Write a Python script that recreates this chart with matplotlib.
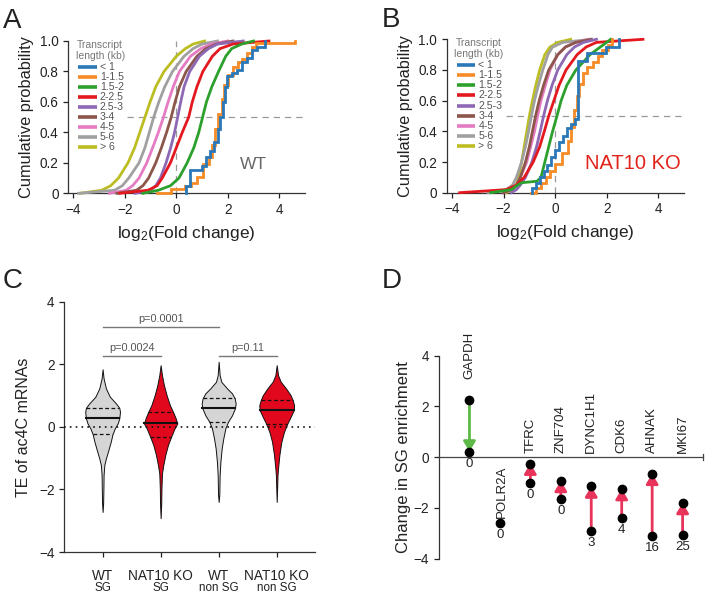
import numpy as np
import matplotlib
matplotlib.use('Agg')
import matplotlib.pyplot as plt

plt.rcParams['font.family'] = ['Liberation Sans', 'DejaVu Sans']
plt.rcParams['mathtext.fontset'] = 'custom'
plt.rcParams['mathtext.rm'] = 'Liberation Sans'
plt.rcParams['mathtext.it'] = 'Liberation Sans:italic'

# ---------------- Panels A / B data (cumulative distributions) ----------------
length_bins = ['< 1', '1-1.5', '1.5-2', '2-2.5', '2.5-3', '3-4', '4-5', '5-6', '> 6']
bin_colors = ['#2b78b8', '#f68b27', '#2ca02c', '#e3191f', '#8d68b5', '#8c564b',
              '#e57bc3', '#a0a0a0', '#bcbd22']

probs = [0, 0.02, 0.05, 0.1, 0.2, 0.3, 0.4, 0.5, 0.6, 0.7, 0.8, 0.9, 0.95, 0.98, 1.0]

# WT: log2 fold change quantiles per transcript-length bin
wt_lt1_x = [0.38, 0.38, 0.52, 1.0, 1.15, 1.3, 1.45, 1.6, 1.7, 1.8, 1.9, 1.96, 2.15, 2.35, 2.55, 2.75, 2.95, 3.15, 3.45]
wt_lt1_p = [0.0, 0.05, 0.15, 0.18, 0.24, 0.28, 0.34, 0.42, 0.5, 0.6, 0.7, 0.77, 0.79, 0.81, 0.86, 0.89, 0.94, 0.96, 1.0]
wt_1_15_x = [-0.75, -0.2, 0.35, 0.55, 0.8, 1.05, 1.25, 1.38, 1.5, 1.62, 1.76, 1.84, 2.0, 2.2, 2.4, 2.55, 2.75, 2.95, 3.1, 4.6]
wt_1_15_p = [0.005, 0.03, 0.05, 0.07, 0.11, 0.19, 0.24, 0.32, 0.42, 0.52, 0.62, 0.71, 0.78, 0.83, 0.86, 0.88, 0.92, 0.96, 0.985, 1.0]
wt_15_2 = [-1.3, -0.7, -0.23, 0.1, 0.42, 0.68, 0.87, 1.02, 1.17, 1.38, 1.64, 1.92, 2.15, 2.54, 3.0]
wt_2_25 = [-2.2, -1.1, -0.75, -0.55, -0.23, 0.0, 0.23, 0.48, 0.62, 0.8, 1.03, 1.4, 1.7, 2.2, 3.6]
wt_25_3 = [-1.6, -1.0, -0.8, -0.62, -0.4, -0.22, -0.07, 0.05, 0.17, 0.3, 0.52, 0.9, 1.25, 1.6, 2.6]
wt_3_4 = [-2.3, -1.55, -1.3, -1.08, -0.8, -0.58, -0.38, -0.2, -0.05, 0.12, 0.38, 0.8, 1.15, 1.55, 2.2]
wt_4_5 = [-2.6, -1.95, -1.7, -1.45, -1.15, -0.92, -0.7, -0.5, -0.32, -0.12, 0.12, 0.55, 0.95, 1.35, 2.0]
wt_5_6 = [-3.8, -2.4, -2.1, -1.85, -1.45, -1.22, -1.05, -0.88, -0.68, -0.45, -0.15, 0.3, 0.65, 1.0, 1.6]
wt_gt6 = [-3.75, -2.9, -2.55, -2.25, -1.88, -1.62, -1.42, -1.22, -1.02, -0.8, -0.48, 0.0, 0.35, 0.65, 1.1]

# NAT10 KO
ko_lt1_x = [-0.9, -0.9, -0.75, -0.6, -0.45, -0.3, -0.15, 0.0, 0.15, 0.3, 0.45, 0.6, 0.75, 0.9, 1.25, 1.95, 2.48]
ko_lt1_p = [0.0, 0.03, 0.06, 0.1, 0.14, 0.18, 0.23, 0.28, 0.33, 0.37, 0.42, 0.45, 0.48, 0.86, 0.91, 0.95, 1.0]
ko_1_15_x = [-0.95, -0.75, -0.55, -0.35, -0.2, 0.0, 0.28, 0.48, 0.6, 0.74, 0.83, 0.93, 1.06, 1.25, 1.45, 1.64, 1.83, 2.03, 2.2]
ko_1_15_p = [0.0, 0.03, 0.06, 0.1, 0.14, 0.19, 0.26, 0.34, 0.43, 0.54, 0.63, 0.71, 0.78, 0.82, 0.85, 0.89, 0.93, 0.96, 1.0]
ko_15_2_x = [-2.5, -1.7, -1.45, -1.3, -0.7, -0.55, -0.4, -0.25, -0.1, 0.07, 0.23, 0.45, 0.8, 1.35, 1.75, 2.15]
ko_15_2_p = [0.0, 0.02, 0.05, 0.065, 0.075, 0.1, 0.2, 0.3, 0.4, 0.5, 0.6, 0.7, 0.8, 0.9, 0.95, 1.0]
ko_2_25 = [-3.7, -1.9, -1.5, -1.2, -0.85, -0.6, -0.42, -0.25, -0.05, 0.15, 0.42, 0.85, 1.2, 1.6, 3.4]
ko_25_3 = [-1.7, -1.5, -1.35, -1.15, -0.9, -0.72, -0.58, -0.45, -0.3, -0.12, 0.1, 0.45, 0.75, 1.1, 1.6]
ko_3_4 = [-2.0, -1.7, -1.5, -1.35, -1.15, -1.0, -0.88, -0.76, -0.62, -0.45, -0.25, 0.1, 0.4, 0.8, 1.4]
ko_4_5 = [-2.0, -1.7, -1.5, -1.35, -1.1, -0.95, -0.8, -0.68, -0.55, -0.38, -0.2, 0.1, 0.4, 0.8, 1.3]
ko_5_6 = [-2.6, -1.9, -1.65, -1.5, -1.3, -1.15, -1.03, -0.92, -0.8, -0.65, -0.48, -0.28, -0.1, 0.3, 1.4]
ko_gt6 = [-1.9, -1.65, -1.5, -1.42, -1.3, -1.2, -1.1, -1.0, -0.88, -0.75, -0.6, -0.4, -0.2, 0.1, 0.6]

# ---------------- Panel C data (violins) ----------------
violin_groups = ['WT', 'NAT10 KO', 'WT', 'NAT10 KO']
violin_sub = ['SG', 'SG', 'non SG', 'non SG']
violin_colors = ['#d5d5d5', '#e1071c', '#d5d5d5', '#e1071c']
# density outline: y levels and half-widths (in category units)
wt_sg_y = [-2.72, -2.45, -1.97, -1.54, -1.22, -1.01, -0.74, -0.48, -0.24, -0.05, 0.11, 0.27, 0.48, 0.61, 0.75, 0.96, 1.23, 1.55, 1.84]
wt_sg_w = [0.0, 0.009, 0.014, 0.017, 0.03, 0.057, 0.1, 0.14, 0.17, 0.21, 0.26, 0.287, 0.3, 0.287, 0.23, 0.126, 0.057, 0.017, 0.0]
ko_sg_y = [-2.92, -2.45, -1.97, -1.49, -1.22, -0.9, -0.58, -0.32, -0.05, 0.11, 0.27, 0.46, 0.69, 1.01, 1.33, 1.65, 1.97]
ko_sg_w = [0.0, 0.01, 0.014, 0.023, 0.046, 0.08, 0.126, 0.18, 0.24, 0.287, 0.26, 0.218, 0.16, 0.103, 0.057, 0.023, 0.0]
wt_nsg_y = [-2.4, -2.15, -1.54, -1.12, -0.69, -0.37, -0.05, 0.16, 0.37, 0.59, 0.75, 0.91, 1.07, 1.23, 1.44, 1.65, 2.08]
wt_nsg_w = [0.0, 0.011, 0.017, 0.03, 0.052, 0.08, 0.115, 0.16, 0.23, 0.28, 0.293, 0.276, 0.23, 0.144, 0.046, 0.017, 0.0]
ko_nsg_y = [-2.4, -1.54, -1.33, -0.9, -0.48, -0.16, 0.09, 0.32, 0.53, 0.69, 0.85, 1.01, 1.23, 1.44, 1.65, 1.97]
ko_nsg_w = [0.0, 0.014, 0.023, 0.046, 0.08, 0.126, 0.18, 0.24, 0.293, 0.3, 0.276, 0.24, 0.16, 0.07, 0.023, 0.0]
violin_median = [0.27, 0.11, 0.59, 0.53]
violin_q1 = [-0.24, -0.32, 0.16, 0.09]
violin_q3 = [0.61, 0.46, 0.91, 0.85]
comparisons = [(1, 3, 'p=0.0001'), (1, 2, 'p=0.0024'), (3, 4, 'p=0.11')]
comparison_y = [3.2, 2.25, 2.25]

# ---------------- Panel D data ----------------
genes = ['GAPDH', 'POLR2A', 'TFRC', 'ZNF704', 'DYNC1H1', 'CDK6', 'AHNAK', 'MKI67']
enrich_start = [2.25, -2.6, -1.03, -1.65, -2.9, -2.4, -3.1, -3.05]
enrich_end = [0.22, np.nan, -0.25, -0.93, -1.15, -1.25, -0.65, -1.8]
site_counts = [0, 0, 0, 0, 3, 4, 16, 25]

# ============================================================================
W, H = 705, 595
fig = plt.figure(figsize=(W / 100, H / 100), dpi=100)


def px_axes(left, top, right, bottom):
    return fig.add_axes([left / W, 1 - bottom / H, (right - left) / W, (bottom - top) / H])


def style_axes(ax):
    for s in ['top', 'right']:
        ax.spines[s].set_visible(False)
    for s in ['left', 'bottom']:
        ax.spines[s].set_linewidth(0.9)
        ax.spines[s].set_color('#333333')
    ax.tick_params(direction='out', length=3.5, width=0.9, colors='#222222', labelsize=9.8)


def cdf_panel(ax, series, label_text, label_color, label_size):
    ax.set_xlim(-4.2, 5.0)
    ax.set_ylim(0, 1.0)
    style_axes(ax)
    ax.plot([0, 0], [0, 1.0], color='#999999', lw=0.9, ls=(0, (5, 4)), zorder=1)
    ax.plot([-1.9, 5.0], [0.5, 0.5], color='#999999', lw=0.9, ls=(0, (5, 4)), zorder=1)
    for i in range(len(series) - 1, -1, -1):
        xs, ps, step = series[i]
        ax.plot(xs, ps, color=bin_colors[i], lw=2.0, drawstyle='steps-post' if step else 'default',
                solid_joinstyle='miter', clip_on=False, zorder=3 + (len(series) - i) * 0.01)
    ax.set_xticks([-4, -2, 0, 2, 4])
    ax.set_yticks([0, 0.2, 0.4, 0.6, 0.8, 1.0])
    ax.set_yticklabels(['0', '0.2', '0.4', '0.6', '0.8', '1.0'])
    ax.set_xlabel(r'log$_\mathrm{2}$(Fold change)', fontsize=12.5, color='#222222', labelpad=5)
    ax.set_ylabel('Cumulative probability', fontsize=11.8, color='#222222', labelpad=4)
    # legend (manual)
    ax.text(0.135, 0.974, 'Transcript', transform=ax.transAxes, ha='center', va='center',
            fontsize=7.5, color='#777777')
    ax.text(0.135, 0.901, 'length (kb)', transform=ax.transAxes, ha='center', va='center',
            fontsize=7.5, color='#777777')
    for i, lab in enumerate(length_bins):
        yy = 0.831 - i * 0.0657
        ax.plot([0.042, 0.12], [yy, yy], color=bin_colors[i], lw=2.6, transform=ax.transAxes,
                solid_capstyle='butt')
        ax.text(0.133, yy, lab, transform=ax.transAxes, ha='left', va='center', fontsize=7.6,
                color='#555555')
    ax.text(3.0, 0.19, label_text, ha='center', va='center', fontsize=label_size, color=label_color)


# Panel A
axA = px_axes(68.3, 41, 305, 193.3)
seriesA = [(wt_lt1_x, wt_lt1_p, True), (wt_1_15_x, wt_1_15_p, True), (wt_15_2, probs, False),
           (wt_2_25, probs, False), (wt_25_3, probs, False), (wt_3_4, probs, False),
           (wt_4_5, probs, False), (wt_5_6, probs, False), (wt_gt6, probs, False)]
cdf_panel(axA, seriesA, 'WT', '#666666', 12.5)

# Panel B
axB = px_axes(446.7, 39.3, 684.3, 192.7)
seriesB = [(ko_lt1_x, ko_lt1_p, True), (ko_1_15_x, ko_1_15_p, True), (ko_15_2_x, ko_15_2_p, False),
           (ko_2_25, probs, False), (ko_25_3, probs, False), (ko_3_4, probs, False),
           (ko_4_5, probs, False), (ko_5_6, probs, False), (ko_gt6, probs, False)]
cdf_panel(axB, seriesB, 'NAT10 KO', '#e2231a', 14.5)

# Panel C
axC = px_axes(64.3, 301.7, 315, 552)
style_axes(axC)
axC.set_xlim(0.34, 4.66)
axC.set_ylim(-4, 4)
profiles = [(wt_sg_y, wt_sg_w), (ko_sg_y, ko_sg_w), (wt_nsg_y, wt_nsg_w), (ko_nsg_y, ko_nsg_w)]
for i, (ys, ws) in enumerate(profiles):
    x0 = i + 1
    ys = np.array(ys)
    ws = np.array(ws)
    axC.fill_betweenx(ys, x0 - ws, x0 + ws, facecolor=violin_colors[i], edgecolor='#111111',
                      lw=0.7, zorder=2)
    for val, ls, lw in [(violin_median[i], '-', 1.5), (violin_q1[i], (0, (3, 2)), 0.9),
                        (violin_q3[i], (0, (3, 2)), 0.9)]:
        hw = np.interp(val, ys, ws)
        axC.plot([x0 - hw, x0 + hw], [val, val], color='#111111', lw=lw, ls=ls, zorder=3)
axC.plot([0.34, 4.66], [0, 0], color='#111111', lw=1.2, ls=(0, (1, 2.5)), zorder=4)
for (a, b, txt), yb in zip(comparisons, comparison_y):
    axC.plot([a, b], [yb, yb], color='#777777', lw=1.0)
    axC.text((a + b) / 2, yb + 0.1, txt, ha='center', va='bottom', fontsize=7.8, color='#555555')
axC.set_yticks([-4, -2, 0, 2, 4])
axC.set_xticks([1, 2, 3, 4])
axC.set_xticklabels([])
for i in range(4):
    axC.text(i + 1, -0.095, violin_groups[i], transform=axC.get_xaxis_transform(), ha='center',
             va='center', fontsize=9.8, color='#222222')
    axC.text(i + 1, -0.145, violin_sub[i], transform=axC.get_xaxis_transform(), ha='center',
             va='center', fontsize=8.4, color='#222222')
axC.set_ylabel('TE of ac4C mRNAs', fontsize=11.5, color='#222222', labelpad=6)

# Panel D
axD = px_axes(439, 355.7, 703, 558.7)
style_axes(axD)
axD.set_xlim(0, 8.67)
axD.set_ylim(-4, 4)
axD.spines['bottom'].set_position(('data', 0))
axD.spines['bottom'].set_color('#444444')
axD.tick_params(axis='x', length=0, labelbottom=False)
axD.set_yticks([-4, -2, 0, 2, 4])
axD.plot([8.67, 8.67], [-0.12, 0.12], color='#444444', lw=0.9, clip_on=False)
xpos = np.arange(1, len(genes) + 1)
for x, g, s, e, n in zip(xpos, genes, enrich_start, enrich_end, site_counts):
    if np.isnan(e):
        axD.plot(x, s, 'o', color='black', ms=6, zorder=5)
        axD.text(x + 0.08, s + 0.2, g, rotation=90, ha='center', va='bottom', fontsize=9.5,
                 color='#222222')
        low = s
    else:
        col = '#5cb946' if e < s else '#e8335a'
        axD.annotate('', xy=(x, e), xytext=(x, s),
                     arrowprops=dict(arrowstyle='-|>,head_length=0.6,head_width=0.36',
                                     color=col, lw=2.0, mutation_scale=10, shrinkA=0, shrinkB=0),
                     zorder=3)
        axD.plot([x, x], [s, e], 'o', color='black', ms=6, zorder=5, ls='none')
        top = max(s, e)
        ly = top + 0.85 if top > 0 else 0.15
        axD.text(x, ly, g, rotation=90, ha='center', va='bottom', fontsize=9.5, color='#222222')
        low = min(s, e)
    axD.text(x, low - 0.47, str(n), ha='center', va='center', fontsize=9.5, color='#222222')
axD.set_ylabel('Change in SG enrichment', fontsize=12, color='#222222', labelpad=2)

# Panel letters
for lab, (lx, ly) in zip('ABCD', [(3, 28.3), (382, 27), (3, 288.3), (382, 288.3)]):
    fig.text(lx / W, 1 - ly / H, lab, fontsize=20, color='#222222', ha='left', va='baseline')

fig.savefig('out.png', dpi=100)
